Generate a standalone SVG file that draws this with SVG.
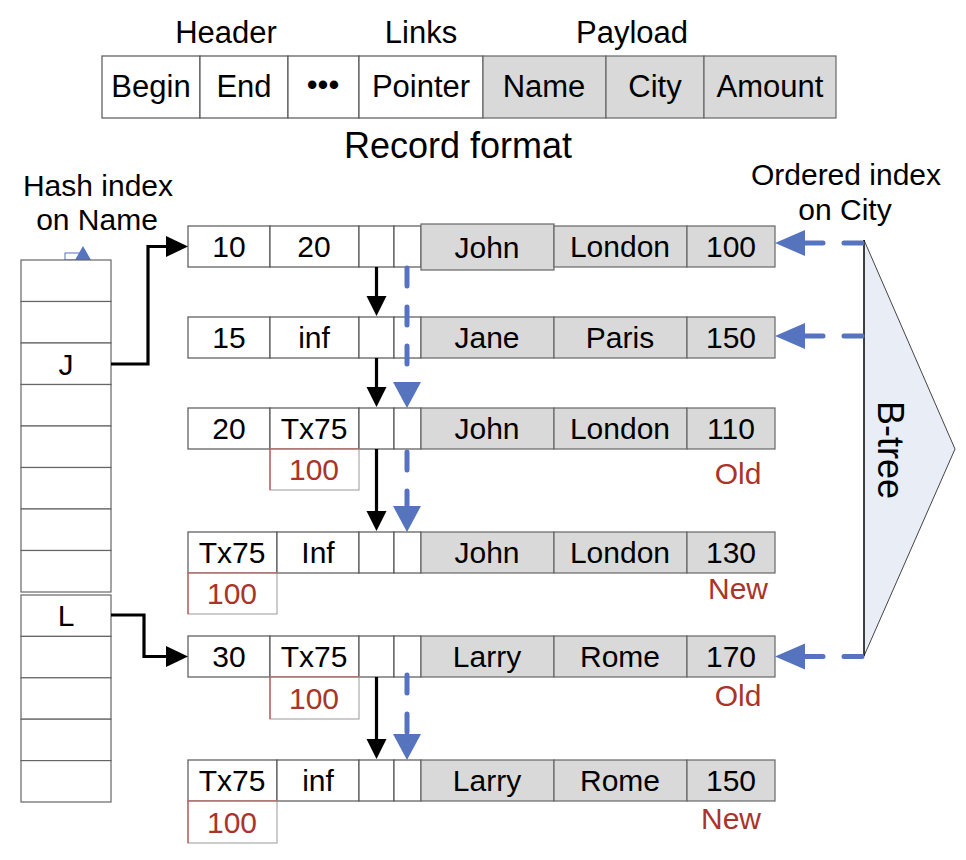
<svg xmlns="http://www.w3.org/2000/svg" width="966" height="860" viewBox="0 0 966 860">
<style>
text{font-family:"Liberation Sans",Arial,sans-serif;fill:#000;text-anchor:middle}
.t30{font-size:31px}
.t28{font-size:30px}
.big{font-size:36px}
.red{fill:#a8342a}
.w{fill:#fff;stroke:#555;stroke-width:1.2}
.g{fill:#d9d9d9;stroke:#666;stroke-width:1.2}
.h{fill:#fff;stroke:#666;stroke-width:1.2}
.rb{fill:#fff;stroke:#aaa;stroke-width:1.2}
.rl{fill:none;stroke:#c0504d;stroke-width:1.2}
.blk{fill:none;stroke:#000;stroke-width:3.2}
.bd{fill:none;stroke:#5673bd;stroke-width:5;stroke-linecap:round;stroke-dasharray:18 21}
.ah{fill:#000}
.bh{fill:#5673bd}
</style>

<g id="record-format">
  <text class="t30" x="226" y="43">Header</text>
  <text class="t30" x="421" y="43">Links</text>
  <text class="t30" x="632" y="43">Payload</text>
  <rect class="w" x="102" y="56" width="98" height="62"/>
  <rect class="w" x="200" y="56" width="88" height="62"/>
  <rect class="w" x="288" y="56" width="71" height="62"/>
  <rect class="w" x="359" y="56" width="124" height="62"/>
  <rect class="g" x="483" y="56" width="123" height="62"/>
  <rect class="g" x="606" y="56" width="98" height="62"/>
  <rect class="g" x="704" y="56" width="132" height="62"/>
  <text class="t30" x="151" y="97">Begin</text>
  <text class="t30" x="244" y="97">End</text>
  <text class="t30" x="323" y="95">•••</text>
  <text class="t30" x="421" y="97">Pointer</text>
  <text class="t30" x="544" y="97">Name</text>
  <text class="t30" x="655" y="97">City</text>
  <text class="t30" x="770" y="97">Amount</text>
  <text class="big" x="458" y="158">Record format</text>
</g>

<g id="hash-index">
  <text class="t28" x="98" y="196">Hash index</text>
  <text class="t28" x="97" y="230">on Name</text>
  <rect x="65" y="253" width="18" height="7" fill="none" stroke="#5673bd" stroke-width="1"/>
  <polygon class="bh" points="75,260 91,260 83,246"/>
  <rect class="h" x="21" y="260" width="90" height="41.5"/>
  <rect class="h" x="21" y="301.5" width="90" height="41.5"/>
  <rect class="h" x="21" y="343" width="90" height="41.5"/>
  <rect class="h" x="21" y="384.5" width="90" height="41.5"/>
  <rect class="h" x="21" y="426" width="90" height="41.5"/>
  <rect class="h" x="21" y="467.5" width="90" height="41.5"/>
  <rect class="h" x="21" y="509" width="90" height="41.5"/>
  <rect class="h" x="21" y="550.5" width="90" height="41.5"/>
  <rect class="h" x="21" y="595" width="90" height="41.4"/>
  <rect class="h" x="21" y="636.4" width="90" height="41.4"/>
  <rect class="h" x="21" y="677.8" width="90" height="41.4"/>
  <rect class="h" x="21" y="719.2" width="90" height="41.4"/>
  <rect class="h" x="21" y="760.6" width="90" height="41.4"/>
  <text class="t28" x="66" y="375">J</text>
  <text class="t28" x="66" y="626">L</text>
</g>

<g id="row1">
  <rect class="w" x="188" y="226" width="82" height="41"/>
  <rect class="w" x="270" y="226" width="89" height="41"/>
  <rect class="w" x="359" y="226" width="35" height="41"/>
  <rect class="w" x="394" y="226" width="27" height="41"/>
  <rect class="g" x="421" y="224" width="133" height="46"/>
  <rect class="g" x="554" y="226" width="133" height="41"/>
  <rect class="g" x="687" y="226" width="88" height="41"/>
  <text class="t28" x="229" y="257">10</text>
  <text class="t28" x="314" y="257">20</text>
  <text class="t28" x="487" y="258">John</text>
  <text class="t28" x="620" y="257">London</text>
  <text class="t28" x="731" y="257">100</text>
</g>

<g id="row2">
  <rect class="w" x="188" y="317" width="82" height="41"/>
  <rect class="w" x="270" y="317" width="89" height="41"/>
  <rect class="w" x="359" y="317" width="35" height="41"/>
  <rect class="w" x="394" y="317" width="27" height="41"/>
  <rect class="g" x="421" y="317" width="133" height="41"/>
  <rect class="g" x="554" y="317" width="133" height="41"/>
  <rect class="g" x="687" y="317" width="88" height="41"/>
  <text class="t28" x="229" y="348">15</text>
  <text class="t28" x="314" y="348">inf</text>
  <text class="t28" x="487" y="348">Jane</text>
  <text class="t28" x="620" y="348">Paris</text>
  <text class="t28" x="731" y="348">150</text>
</g>

<g id="row3">
  <rect class="w" x="188" y="408" width="82" height="41"/>
  <rect class="w" x="270" y="408" width="89" height="41"/>
  <rect class="w" x="359" y="408" width="35" height="41"/>
  <rect class="w" x="394" y="408" width="27" height="41"/>
  <rect class="g" x="421" y="408" width="133" height="41"/>
  <rect class="g" x="554" y="408" width="133" height="41"/>
  <rect class="g" x="687" y="408" width="88" height="41"/>
  <rect class="rb" x="270" y="449" width="89" height="41"/>
  <path class="rl" d="M270,490 V449 H359"/>
  <text class="t28" x="229" y="439">20</text>
  <text class="t28" x="314" y="439">Tx75</text>
  <text class="t28" x="487" y="439">John</text>
  <text class="t28" x="620" y="439">London</text>
  <text class="t28" x="731" y="439">110</text>
  <text class="t28 red" x="314" y="480">100</text>
  <text class="t28 red" x="738" y="484">Old</text>
</g>

<g id="row4">
  <rect class="w" x="188" y="532" width="89" height="41"/>
  <rect class="w" x="277" y="532" width="82" height="41"/>
  <rect class="w" x="359" y="532" width="35" height="41"/>
  <rect class="w" x="394" y="532" width="27" height="41"/>
  <rect class="g" x="421" y="532" width="133" height="41"/>
  <rect class="g" x="554" y="532" width="133" height="41"/>
  <rect class="g" x="687" y="532" width="88" height="41"/>
  <rect class="rb" x="188" y="573" width="89" height="41"/>
  <path class="rl" d="M188,614 V573 H277"/>
  <text class="t28" x="232" y="563">Tx75</text>
  <text class="t28" x="318" y="563">Inf</text>
  <text class="t28" x="487" y="563">John</text>
  <text class="t28" x="620" y="563">London</text>
  <text class="t28" x="731" y="563">130</text>
  <text class="t28 red" x="232" y="604">100</text>
  <text class="t28 red" x="738" y="599">New</text>
</g>

<g id="row5">
  <rect class="w" x="188" y="636" width="82" height="41"/>
  <rect class="w" x="270" y="636" width="89" height="41"/>
  <rect class="w" x="359" y="636" width="35" height="41"/>
  <rect class="w" x="394" y="636" width="27" height="41"/>
  <rect class="g" x="421" y="636" width="133" height="41"/>
  <rect class="g" x="554" y="636" width="133" height="41"/>
  <rect class="g" x="687" y="636" width="88" height="41"/>
  <rect class="rb" x="270" y="677" width="89" height="42"/>
  <path class="rl" d="M270,719 V677 H359"/>
  <text class="t28" x="229" y="667">30</text>
  <text class="t28" x="314" y="667">Tx75</text>
  <text class="t28" x="487" y="667">Larry</text>
  <text class="t28" x="620" y="667">Rome</text>
  <text class="t28" x="731" y="667">170</text>
  <text class="t28 red" x="314" y="709">100</text>
  <text class="t28 red" x="738" y="706">Old</text>
</g>

<g id="row6">
  <rect class="w" x="188" y="760" width="89" height="41"/>
  <rect class="w" x="277" y="760" width="82" height="41"/>
  <rect class="w" x="359" y="760" width="35" height="41"/>
  <rect class="w" x="394" y="760" width="27" height="41"/>
  <rect class="g" x="421" y="760" width="133" height="41"/>
  <rect class="g" x="554" y="760" width="133" height="41"/>
  <rect class="g" x="687" y="760" width="88" height="41"/>
  <rect class="rb" x="188" y="801" width="89" height="42"/>
  <path class="rl" d="M188,843 V801 H277"/>
  <text class="t28" x="232" y="791">Tx75</text>
  <text class="t28" x="318" y="791">inf</text>
  <text class="t28" x="487" y="791">Larry</text>
  <text class="t28" x="620" y="791">Rome</text>
  <text class="t28" x="731" y="791">150</text>
  <text class="t28 red" x="232" y="833">100</text>
  <text class="t28 red" x="731" y="829">New</text>
</g>

<g id="btree">
  <text class="t28" x="846" y="185">Ordered index</text>
  <text class="t28" x="845" y="220">on City</text>
  <polygon points="864,240 955,449 864,656" fill="#e9edf5" stroke="#444" stroke-width="1"/>
  <line x1="864" y1="240" x2="864" y2="656" stroke="#000" stroke-width="1.2"/>
  <text class="big" transform="translate(878,450) rotate(90)" x="0" y="0">B-tree</text>
</g>

<g id="connectors">
  <path class="blk" d="M111,364 H148 V246.5 H168"/>
  <polygon class="ah" points="166,236 188,246.5 166,257"/>
  <path class="blk" d="M111,615 H144 V656.5 H168"/>
  <polygon class="ah" points="166,646 188,656.5 166,667"/>

  <line class="blk" x1="376.5" y1="267" x2="376.5" y2="298"/>
  <polygon class="ah" points="366.5,296 386.5,296 376.5,316"/>
  <line class="blk" x1="376.5" y1="358" x2="376.5" y2="389"/>
  <polygon class="ah" points="366.5,387 386.5,387 376.5,407"/>
  <line class="blk" x1="376.5" y1="449" x2="376.5" y2="513"/>
  <polygon class="ah" points="366.5,511 386.5,511 376.5,531"/>
  <line class="blk" x1="376.5" y1="677" x2="376.5" y2="741"/>
  <polygon class="ah" points="366.5,739 386.5,739 376.5,759"/>

  <line class="bd" x1="407" y1="268" x2="407" y2="382"/>
  <polygon class="bh" points="393,382 421,382 407,408"/>
  <line class="bd" x1="407" y1="452" x2="407" y2="506"/>
  <polygon class="bh" points="393,506 421,506 407,532"/>
  <line class="bd" x1="407" y1="675" x2="407" y2="734"/>
  <polygon class="bh" points="393,734 421,734 407,760"/>

  <line class="bd" x1="862" y1="243" x2="805" y2="243"/>
  <polygon class="bh" points="805,230 805,256 775,243"/>
  <line class="bd" x1="862" y1="336" x2="805" y2="336"/>
  <polygon class="bh" points="805,323 805,349 775,336"/>
  <line class="bd" x1="862" y1="656.5" x2="805" y2="656.5"/>
  <polygon class="bh" points="805,643.5 805,669.5 775,656.5"/>
</g>
</svg>
